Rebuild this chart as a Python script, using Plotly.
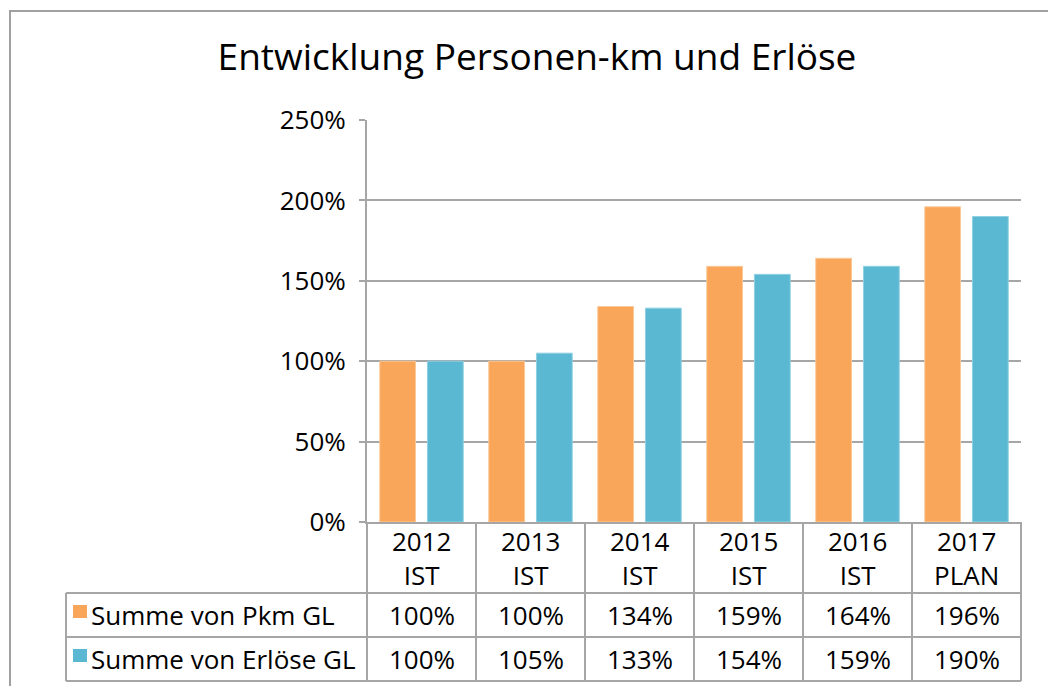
import plotly.graph_objects as go

# ---- data ----
years = ["2012", "2013", "2014", "2015", "2016", "2017"]
status = ["IST", "IST", "IST", "IST", "IST", "PLAN"]
series_names = ["Summe von Pkm GL", "Summe von Erlöse GL"]
pkm = [1.00, 1.00, 1.34, 1.59, 1.64, 1.96]
erloese = [1.00, 1.05, 1.33, 1.54, 1.59, 1.90]
title_text = "Entwicklung Personen-km und Erlöse"

categories = [f"{y} {s}" for y, s in zip(years, status)]
series_values = [pkm, erloese]
colors = ["#F9A65A", "#5BB8D2"]
line_colors = ["#FCC896", "#8FD0E2"]

FONT = "Open Sans"
GRID = "#a6a6a6"

# layout geometry (pixels)
WIDTH, HEIGHT = 1048, 686
L, R, T, B = 367, 1021, 120, 522
PW, PH = R - L, B - T


def px(x):
    return (x - L) / PW


def py(y):
    return (B - y) / PH


fig = go.Figure()
for name, vals, c, lc in zip(series_names, series_values, colors, line_colors):
    fig.add_trace(go.Bar(
        x=categories, y=vals, name=name,
        marker=dict(color=c, line=dict(color=lc, width=1)),
        showlegend=False,
    ))

n = len(categories)
row_lines = [593, 637, 681]
shapes = []
line_style = dict(color=GRID, width=2)
# column boundaries of the data table
for k in range(n + 1):
    shapes.append(dict(type="line", xref="paper", yref="paper",
                       x0=k / n, x1=k / n, y0=py(B), y1=py(row_lines[-1]),
                       line=line_style))
# legend column left edge
shapes.append(dict(type="line", xref="paper", yref="paper",
                   x0=px(66), x1=px(66), y0=py(row_lines[0]), y1=py(row_lines[-1]),
                   line=line_style))
for yy in row_lines:
    shapes.append(dict(type="line", xref="paper", yref="paper",
                       x0=px(66), x1=1, y0=py(yy), y1=py(yy), line=line_style))
# outer chart frame
shapes.append(dict(type="rect", xref="paper", yref="paper",
                   x0=px(10), x1=px(1070), y0=py(11), y1=py(720),
                   line=dict(color="#a0a0a0", width=2), fillcolor="rgba(0,0,0,0)"))

annotations = []
tfont = dict(family=FONT, size=26, color="black")
# header row: categories
for cat, y, s in zip(categories, years, status):
    annotations.append(dict(x=cat, xref="x", y=py(558), yref="paper",
                            text=f"{y}<br>{s}", showarrow=False, font=tfont,
                            xanchor="center", yanchor="middle", align="center"))
# value rows
row_centers = [615, 659]
for r, (name, vals, c) in enumerate(zip(series_names, series_values, colors)):
    yc = row_centers[r]
    for cat, v in zip(categories, vals):
        annotations.append(dict(x=cat, xref="x", y=py(yc), yref="paper",
                                text=f"{v:.0%}", showarrow=False, font=tfont,
                                xanchor="center", yanchor="middle"))
    annotations.append(dict(x=px(89), xref="paper", y=py(yc), yref="paper",
                            text=name, showarrow=False, font=tfont,
                            xanchor="left", yanchor="middle"))
    top = row_lines[r] + 12
    shapes.append(dict(type="rect", xref="paper", yref="paper",
                       x0=px(73), x1=px(87), y0=py(top), y1=py(top + 13),
                       line=dict(width=0), fillcolor=c))

fig.update_layout(
    width=WIDTH, height=HEIGHT, autosize=False,
    margin=dict(l=L, r=WIDTH - R, t=T, b=HEIGHT - B, pad=0),
    paper_bgcolor="white", plot_bgcolor="white",
    barmode="group", bargap=0.125, bargroupgap=0.25,
    title=dict(text=title_text, x=537 / WIDTH, xanchor="center",
               y=1 - 57 / HEIGHT, yanchor="middle", yref="container",
               font=dict(family=FONT, size=37, color="black")),
    font=dict(family=FONT, color="black"),
    shapes=shapes, annotations=annotations,
    xaxis=dict(range=[-0.5, n - 0.5], showticklabels=False, showgrid=False,
               showline=True, linecolor=GRID, linewidth=2, ticks="",
               zeroline=False, fixedrange=True),
    yaxis=dict(range=[0, 2.5], dtick=0.5, tickformat=".0%", showgrid=True,
               gridcolor=GRID, gridwidth=2, showline=True, linecolor=GRID,
               linewidth=2, ticks="outside", ticklen=6, tickcolor=GRID,
               tickwidth=2, tickfont=dict(family=FONT, size=26, color="black"),
               ticklabelstandoff=8, zeroline=False, fixedrange=True),
)

fig.write_html(
    "out.html",
    config={"displayModeBar": False},
    post_script="document.body.style.margin='0';document.body.style.overflow='hidden';",
)
